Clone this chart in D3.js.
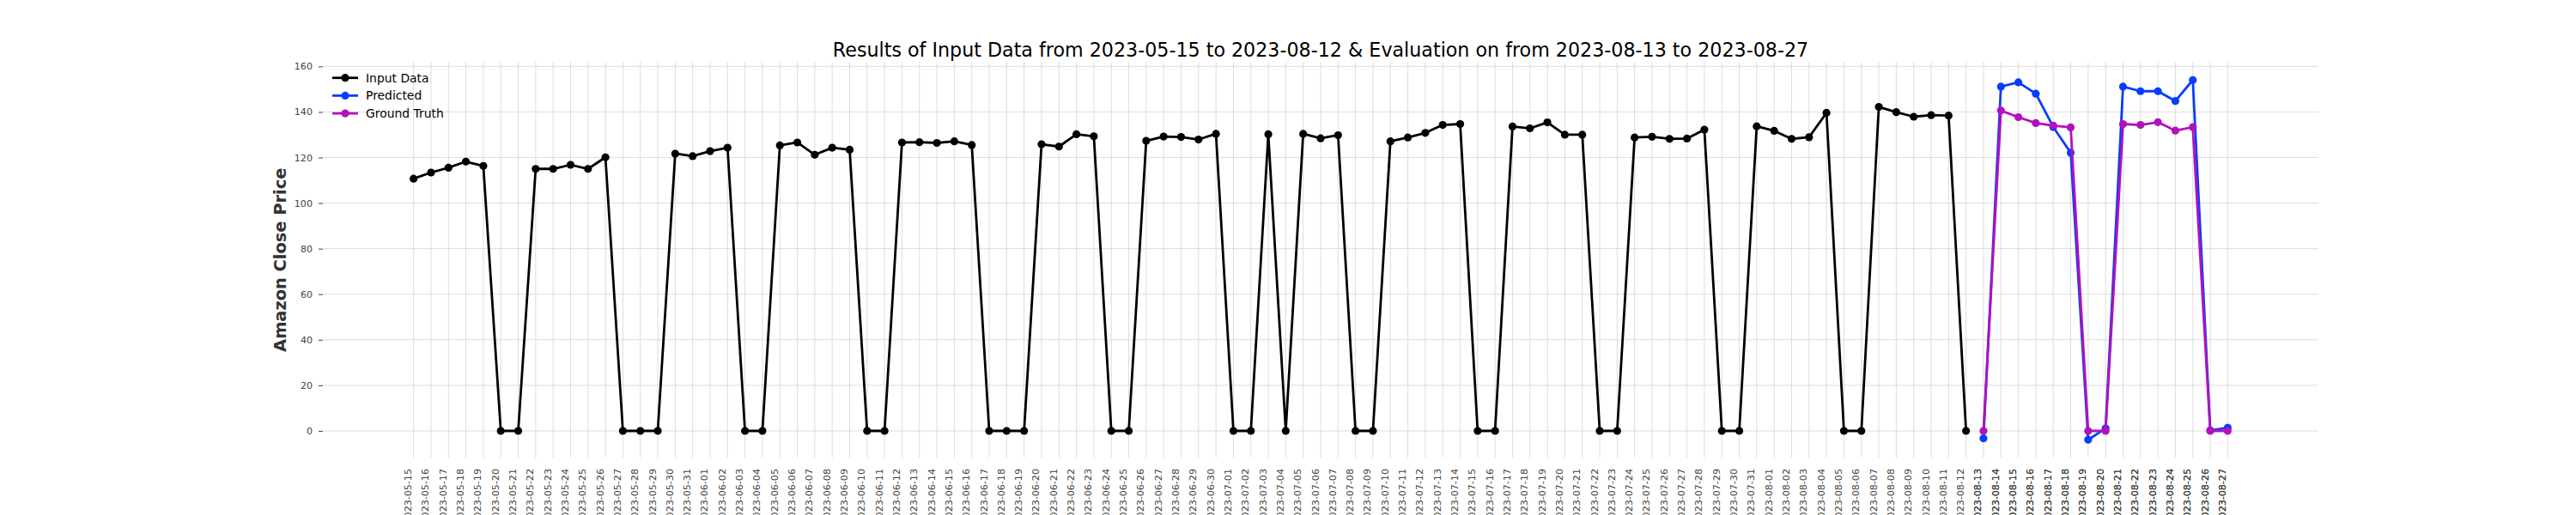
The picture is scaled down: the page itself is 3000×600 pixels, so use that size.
<!DOCTYPE html>
<html>
<head>
<meta charset="utf-8">
<script src="https://cdn.jsdelivr.net/npm/d3@7"></script>
<style>
  html, body { margin: 0; padding: 0; background: #fff; }
  svg { display: block; font-family: "DejaVu Sans", sans-serif; }
</style>
</head>
<body>
<svg id="chart" width="3000" height="600"></svg>
<script>
// ---------------- DATA ----------------
const titleText = "Results of Input Data from 2023-05-15 to 2023-08-12 & Evaluation on from 2023-08-13 to 2023-08-27";
const yLabelText = "Amazon Close Price";
const seriesNames = ["Input Data", "Predicted", "Ground Truth"];

const inputDates = [
  "2023-05-15","2023-05-16","2023-05-17","2023-05-18","2023-05-19","2023-05-20","2023-05-21",
  "2023-05-22","2023-05-23","2023-05-24","2023-05-25","2023-05-26","2023-05-27","2023-05-28",
  "2023-05-29","2023-05-30","2023-05-31","2023-06-01","2023-06-02","2023-06-03","2023-06-04",
  "2023-06-05","2023-06-06","2023-06-07","2023-06-08","2023-06-09","2023-06-10","2023-06-11",
  "2023-06-12","2023-06-13","2023-06-14","2023-06-15","2023-06-16","2023-06-17","2023-06-18",
  "2023-06-19","2023-06-20","2023-06-21","2023-06-22","2023-06-23","2023-06-24","2023-06-25",
  "2023-06-26","2023-06-27","2023-06-28","2023-06-29","2023-06-30","2023-07-01","2023-07-02",
  "2023-07-03","2023-07-04","2023-07-05","2023-07-06","2023-07-07","2023-07-08","2023-07-09",
  "2023-07-10","2023-07-11","2023-07-12","2023-07-13","2023-07-14","2023-07-15","2023-07-16",
  "2023-07-17","2023-07-18","2023-07-19","2023-07-20","2023-07-21","2023-07-22","2023-07-23",
  "2023-07-24","2023-07-25","2023-07-26","2023-07-27","2023-07-28","2023-07-29","2023-07-30",
  "2023-07-31","2023-08-01","2023-08-02","2023-08-03","2023-08-04","2023-08-05","2023-08-06",
  "2023-08-07","2023-08-08","2023-08-09","2023-08-10","2023-08-11","2023-08-12"
];
const inputValues = [
  110.7, 113.4, 115.5, 118.2, 116.3, 0, 0,
  115.0, 115.0, 116.8, 115.0, 120.1, 0, 0,
  0, 121.7, 120.6, 122.8, 124.3, 0, 0,
  125.3, 126.6, 121.2, 124.3, 123.4, 0, 0,
  126.6, 126.7, 126.4, 127.1, 125.5, 0, 0,
  0, 125.8, 124.8, 130.2, 129.3, 0, 0,
  127.3, 129.2, 129.0, 127.9, 130.4, 0, 0,
  130.2, 0, 130.4, 128.4, 129.8, 0, 0,
  127.1, 128.8, 130.8, 134.3, 134.7, 0, 0,
  133.6, 132.8, 135.4, 130.0, 130.0, 0, 0,
  128.8, 129.1, 128.2, 128.3, 132.2, 0, 0,
  133.7, 131.7, 128.2, 128.9, 139.6, 0, 0,
  142.2, 139.9, 137.9, 138.6, 138.4, 0
];
const evalDates = [
  "2023-08-13","2023-08-14","2023-08-15","2023-08-16","2023-08-17","2023-08-18","2023-08-19",
  "2023-08-20","2023-08-21","2023-08-22","2023-08-23","2023-08-24","2023-08-25","2023-08-26",
  "2023-08-27"
];
const predictedValues = [-3.3, 151.1, 153.0, 148.0, 133.4, 122.1, -3.9, 1.1, 151.1, 149.1, 149.1, 144.8, 154.0, 0.2, 1.4];
const groundTruthValues = [0, 140.6, 137.7, 135.1, 134.0, 133.2, 0, 0, 134.7, 134.3, 135.5, 131.8, 133.3, 0, 0];
const yTicks = [0, 20, 40, 60, 80, 100, 120, 140, 160];

// ---------------- STYLE ----------------
const colors = { input: "#000000", pred: "#0a3cff", gt: "#b012bd" };
const plot = { left: 376, right: 2700, top: 72.3, bottom: 533.3 };
const gridColor = "#dddddd";
const lw = 2.8, r = 4.6;

const parse = d3.utcParse("%Y-%m-%d");
const inputData = inputDates.map((d, i) => ({ date: parse(d), value: inputValues[i] }));
const predData = evalDates.map((d, i) => ({ date: parse(d), value: predictedValues[i] }));
const gtData = evalDates.map((d, i) => ({ date: parse(d), value: groundTruthValues[i] }));
const allDates = inputDates.concat(evalDates).map(parse);
const allVals = inputValues.concat(predictedValues, groundTruthValues);

// matplotlib-like 5% margins
const [x0, x1] = d3.extent(allDates);
const xPad = (x1 - x0) * 0.05;
const x = d3.scaleUtc().domain([new Date(+x0 - xPad), new Date(+x1 + xPad)]).range([plot.left, plot.right]);
const [v0, v1] = d3.extent(allVals);
const yPad = (v1 - v0) * 0.05;
const y = d3.scaleLinear().domain([v0 - yPad, v1 + yPad]).range([plot.bottom, plot.top]);

const svg = d3.select("#chart");

// grid
const grid = svg.append("g");
grid.selectAll("line.h").data(yTicks).join("line")
  .attr("x1", plot.left).attr("x2", plot.right)
  .attr("y1", d => y(d)).attr("y2", d => y(d))
  .attr("stroke", gridColor).attr("stroke-width", 1);
grid.selectAll("line.v").data(allDates).join("line")
  .attr("x1", d => x(d)).attr("x2", d => x(d))
  .attr("y1", plot.top).attr("y2", plot.bottom)
  .attr("stroke", gridColor).attr("stroke-width", 1);

// y axis
const yAxis = svg.append("g").attr("transform", `translate(${plot.left},0)`)
  .call(d3.axisLeft(y).tickValues(yTicks).tickSize(5).tickPadding(7).tickFormat(d3.format("d")));
yAxis.select(".domain").remove();
yAxis.selectAll(".tick line").attr("stroke", "#444").attr("stroke-width", 1);
yAxis.selectAll(".tick text").attr("fill", "#444").style("font-size", "11.1px")
  .style("font-family", "DejaVu Sans");

// x axis
const fmt = d3.utcFormat("%Y-%m-%d");
const xAxis = svg.append("g").attr("transform", `translate(0,${plot.bottom})`)
  .call(d3.axisBottom(x).tickValues(allDates).tickSize(0).tickFormat(fmt));
xAxis.select(".domain").remove();
xAxis.selectAll(".tick text")
  .attr("x", 0).attr("y", 0).attr("dy", 0)
  .attr("text-anchor", "end")
  .attr("transform", "translate(-3,12.7) rotate(-90)")
  .attr("fill", "#444").style("font-size", "11.1px").style("font-family", "DejaVu Sans");
// evaluation labels are drawn twice in the reference (two overlapping plots)
const evalSet = new Set(evalDates);
xAxis.selectAll(".tick").filter(d => evalSet.has(fmt(d))).each(function() {
  const t = d3.select(this).select("text");
  d3.select(this).append(() => t.node().cloneNode(true));
});

// series
const line = d3.line().x(d => x(d.date)).y(d => y(d.value));
function drawSeries(data, color) {
  const g = svg.append("g");
  g.append("path").datum(data).attr("d", line)
    .attr("fill", "none").attr("stroke", color).attr("stroke-width", lw)
    .attr("stroke-linejoin", "round").attr("stroke-linecap", "butt");
  g.selectAll("circle").data(data).join("circle")
    .attr("cx", d => x(d.date)).attr("cy", d => y(d.value)).attr("r", r)
    .attr("fill", color);
}
drawSeries(inputData, colors.input);
drawSeries(predData, colors.pred);
drawSeries(gtData, colors.gt);

// title
svg.append("text").attr("x", (plot.left + plot.right) / 2).attr("y", 66)
  .attr("text-anchor", "middle").style("font-size", "22.2px").attr("fill", "#000")
  .text(titleText);

// y label
svg.append("text").attr("transform", `translate(333,${(plot.top + plot.bottom) / 2}) rotate(-90)`)
  .attr("text-anchor", "middle").style("font-size", "19.4px").style("font-weight", "bold")
  .attr("fill", "#333").text(yLabelText);

// legend
const legendColors = [colors.input, colors.pred, colors.gt];
const lg = svg.append("g");
const rows = lg.selectAll("g").data(seriesNames).join("g")
  .attr("transform", (d, i) => `translate(0,${90.7 + i * 20.7})`);
rows.append("line").attr("x1", 387).attr("x2", 417).attr("y1", 0).attr("y2", 0)
  .attr("stroke", (d, i) => legendColors[i]).attr("stroke-width", lw);
rows.append("circle").attr("cx", 402).attr("cy", 0).attr("r", r)
  .attr("fill", (d, i) => legendColors[i]);
rows.append("text").attr("x", 426).attr("y", 0).attr("dy", "0.36em")
  .style("font-size", "13.9px").attr("fill", "#000").text(d => d);
</script>
</body>
</html>
